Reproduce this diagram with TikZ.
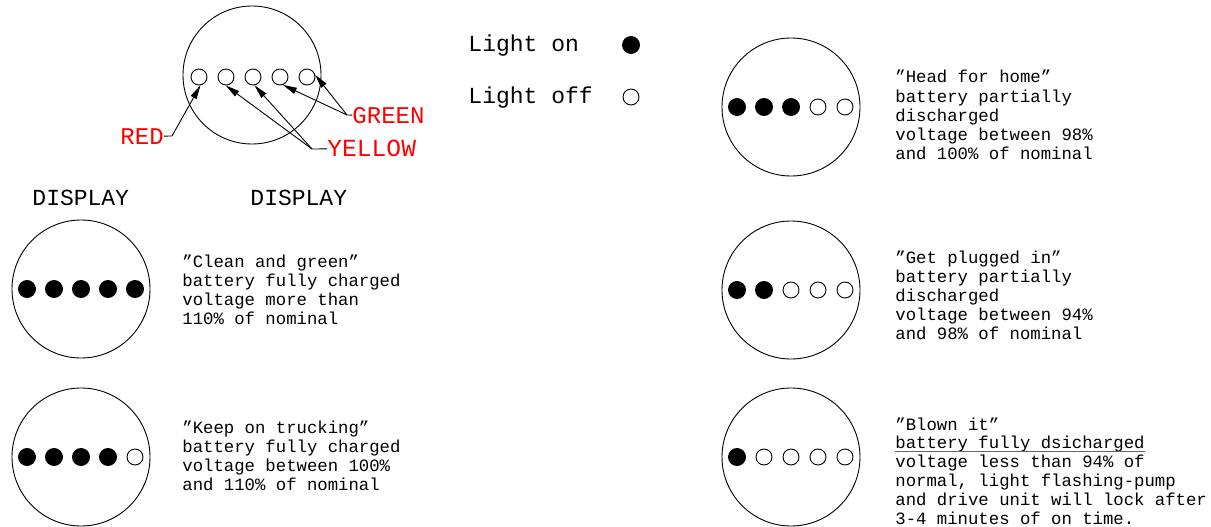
\documentclass[tikz,border=0pt]{standalone}
\usepackage{fontspec}
\setmainfont{Liberation Mono}
\usetikzlibrary{arrows.meta,calc}
\begin{document}
\begin{tikzpicture}[x=1pt,y=-1pt,line width=0.9pt,
  disp/.style={circle,draw,minimum size=138pt,inner sep=0pt},
  onlamp/.style={circle,draw,fill=black,minimum size=17pt,inner sep=0pt},
  offlamp/.style={circle,draw,minimum size=16pt,inner sep=0pt},
  txt/.style={anchor=base west,inner sep=0pt,font=\fontsize{17.3}{19}\selectfont},
  big/.style={anchor=base west,inner sep=0pt,font=\fontsize{23}{26}\selectfont},
  lbl/.style={anchor=base west,inner sep=0pt,text=red,font=\fontsize{24}{26}\selectfont},
  arr/.style={-{Triangle[length=14pt,width=6.5pt]}}]
\useasboundingbox (0,0) rectangle (1211,527);

% top key display
\node[disp] (top) at (252,75) {};
\foreach \i in {1,...,5} {
  \pgfmathtruncatemacro\xx{253+27*(\i-3)}
  \node[offlamp] (s\i) at (\xx,77) {};
}
\node[lbl] (red) at (120,144) {RED};
\node[lbl,font=\fontsize{24.6}{26}\selectfont] (yel) at (327,157) {YELLOW};
\node[lbl] (grn) at (352,123) {GREEN};
\coordinate (rj) at (172,136);
\coordinate (yj) at (312,149);
\coordinate (gj) at (347,115);
\draw (red.east) -- (rj);
\draw[arr] (rj) -- (s1.-80);
\draw (yel.west) -- (yj);
\draw[arr] (yj) -- (s2.-92);
\draw[arr] (yj) -- (s3.-80);
\draw (grn.west) -- (gj);
\draw[arr] (gj) -- (s4.-70);
\draw[arr] (gj) -- (s5.15);

% legend
\node[big] (lighton) at (468,52) {Light on};
\node[onlamp] (don) at (631,45) {};
\node[big] (lightoff) at (468,103) {Light off};
\node[offlamp] (doff) at (631,97) {};

% headings
\node[big] (disp1) at (32,205) {DISPLAY};
\node[big] (disp2) at (250,205) {DISPLAY};

% displays
\foreach \n/\cx/\cy/\k in {a/81/289/5, b/81/457/4, c/791/107/3, d/791/290/2, e/791/457/1} {
  \node[disp] (\n) at (\cx,\cy) {};
  \foreach \i in {1,...,5} {
    \pgfmathtruncatemacro\xx{\cx+27*(\i-3)}
    \ifnum\i>\k
      \node[offlamp] (\n\i) at (\xx,\cy) {};
    \else
      \node[onlamp] (\n\i) at (\xx,\cy) {};
    \fi
  }
}

% descriptions
\foreach \j/\t in {0/{”Clean and green”},1/{battery fully charged},2/{voltage more than},3/{110\% of nominal}}
  \node[txt] (ta\j) at (182,{267+19.2*\j}) {\t};
\foreach \j/\t in {0/{”Keep on trucking”},1/{battery fully charged},2/{voltage between 100\%},3/{and 110\% of nominal}}
  \node[txt] (tb\j) at (182,{433+19.2*\j}) {\t};
\foreach \j/\t in {0/{”Head for home”},1/{battery partially},2/{discharged},3/{voltage between 98\%},4/{and 100\% of nominal}}
  \node[txt] (tc\j) at (895,{83+19.2*\j}) {\t};
\foreach \j/\t in {0/{”Get plugged in”},1/{battery partially},2/{discharged},3/{voltage between 94\%},4/{and 98\% of nominal}}
  \node[txt] (td\j) at (895,{263+19.2*\j}) {\t};
\foreach \j/\t in {0/{”Blown it”},1/{battery fully dsicharged},2/{voltage less than 94\% of},3/{normal, light flashing-pump},4/{and drive unit will lock after},5/{3-4 minutes of on time.}}
  \node[txt] (te\j) at (895,{430+18.8*\j}) {\t};
\draw[black!60] ($(te1.base west)+(0,3)$) -- ($(te1.base east)+(0,3)$);
\end{tikzpicture}
\end{document}
